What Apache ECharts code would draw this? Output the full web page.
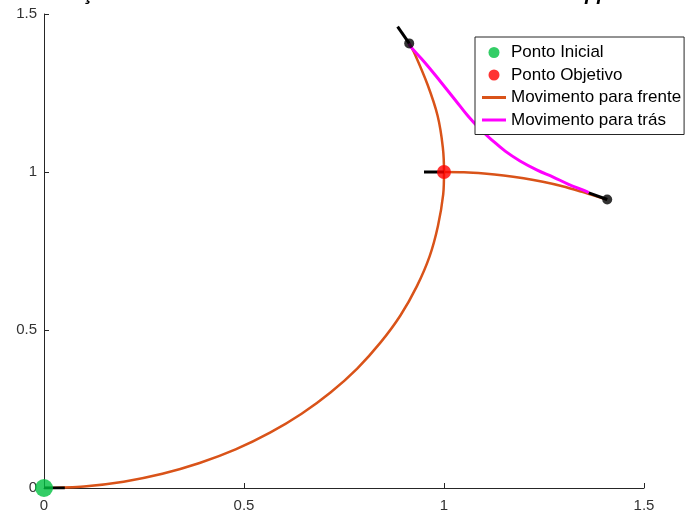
<!DOCTYPE html>
<html>
<head>
<meta charset="utf-8">
<script src="https://cdn.jsdelivr.net/npm/echarts@6/dist/echarts.min.js"></script>
<style>html,body{margin:0;padding:0;background:#fff;}#c{width:690px;height:516px;}</style>
</head>
<body>
<div id="c"></div>
<script>
// Title (partially cut off at the top in the reference)
const titleText = 'Simulações do Resultado Gerado com o Modelo Reeds-Shepp';
// Axis ticks
const xTicks = [0, 0.5, 1, 1.5];
const yTicks = [0, 0.5, 1, 1.5];
// Points
const startPoint = [[0, 0]];
const goalPoint = [[1, 1]];
const waypoints = [[0.913, 1.407], [1.408, 0.913]];
// Forward motion (orange), two arcs
const forwardArc1 = [
  [0, 0], [0.100, 0.005], [0.199, 0.020], [0.296, 0.045], [0.389, 0.079],
  [0.479, 0.122], [0.565, 0.175], [0.644, 0.235], [0.717, 0.303],
  [0.783, 0.378], [0.841, 0.460], [0.891, 0.546], [0.932, 0.638],
  [0.964, 0.733], [0.985, 0.830], [0.998, 0.929], [1.000, 1.000],
  [0.997, 1.079], [0.984, 1.178], [0.959, 1.276], [0.925, 1.379], [0.913, 1.407]
];
const forwardArc2 = [
  [1.000, 1.000], [1.050, 0.999], [1.100, 0.995], [1.149, 0.989],
  [1.199, 0.980], [1.247, 0.969], [1.296, 0.955], [1.343, 0.938],
  [1.389, 0.920], [1.408, 0.913]
];
// Backward motion (magenta)
const backward = [
  [0.913, 1.407], [0.915, 1.399], [0.953, 1.345], [0.990, 1.288],
  [1.028, 1.228], [1.060, 1.177], [1.090, 1.136], [1.120, 1.101],
  [1.153, 1.066], [1.190, 1.035], [1.233, 1.006], [1.273, 0.984],
  [1.310, 0.962], [1.353, 0.940], [1.362, 0.935]
];
// Heading markers (black short segments)
const headStart = [[0, 0], [0.052, 0]];
const headGoal = [[0.95, 1], [1, 1]];
const headTop = [[0.913, 1.407], [0.884, 1.460]];
const headRight = [[1.408, 0.913], [1.362, 0.934]];

const legendNames = ['Ponto Inicial', 'Ponto Objetivo', 'Movimento para frente', 'Movimento para trás'];

const axisCol = '#262626';
const lineIcon = 'path://M0,0H24V3H0Z';
const chart = echarts.init(document.getElementById('c'));
function seg(d) {
  return {type: 'line', data: d, symbol: 'none', silent: true, z: 4,
    lineStyle: {color: '#000', width: 3}};
}
chart.setOption({
  animation: false,
  backgroundColor: '#fff',
  title: {
    text: titleText, left: 12, top: -21,
    textStyle: {fontFamily: 'Liberation Sans, Arial', fontSize: 20, fontWeight: 'bold', fontStyle: 'italic', color: '#000'}
  },
  grid: {left: 44, right: 46, top: 14, bottom: 28, containLabel: false},
  legend: {
    data: legendNames.map((n, i) => i < 2 ? {name: n, icon: 'circle'} : {name: n, icon: lineIcon}),
    orient: 'vertical', left: 475, top: 37,
    backgroundColor: '#fff', borderColor: '#262626', borderWidth: 1, borderRadius: 0,
    padding: [7, 3, 6, 7], itemGap: 5.5, itemWidth: 24, itemHeight: 11, symbolKeepAspect: true,
    textStyle: {fontFamily: 'Liberation Sans, Arial', fontSize: 17, lineHeight: 17, color: '#000', padding: [0, 0, 0, 0]}
  },
  xAxis: {
    type: 'value', min: 0, max: 1.5, interval: 0.5,
    axisLine: {onZero: false, lineStyle: {color: axisCol, width: 1}},
    axisTick: {inside: true, length: 5, lineStyle: {color: axisCol}},
    axisLabel: {color: '#333', fontFamily: 'Liberation Sans, Arial', fontSize: 15, margin: 10,
      formatter: v => String(v)},
    splitLine: {show: false}
  },
  yAxis: {
    type: 'value', min: 0, max: 1.5, interval: 0.5,
    axisLine: {show: true, onZero: false, lineStyle: {color: axisCol, width: 1}},
    axisTick: {show: true, inside: true, length: 5, lineStyle: {color: axisCol}},
    axisLabel: {color: '#333', fontFamily: 'Liberation Sans, Arial', fontSize: 15, margin: 7,
      formatter: v => String(v)},
    splitLine: {show: false}
  },
  series: [
    {name: 'Movimento para frente', type: 'line', data: forwardArc1, symbol: 'none', smooth: 0.3, z: 2,
      itemStyle: {color: '#D95319'}, lineStyle: {color: '#D95319', width: 2.5}},
    {name: 'Movimento para frente', type: 'line', data: forwardArc2, symbol: 'none', smooth: 0.3, z: 2,
      itemStyle: {color: '#D95319'}, lineStyle: {color: '#D95319', width: 2.5}},
    {name: 'Movimento para trás', type: 'line', data: backward, symbol: 'none', smooth: 0.4, z: 3,
      itemStyle: {color: '#FF00FF'}, lineStyle: {color: '#FF00FF', width: 3}},
    seg(headStart), seg(headGoal), seg(headTop), seg(headRight),
    {type: 'scatter', data: waypoints, symbol: 'circle', symbolSize: 10, z: 5, silent: true,
      itemStyle: {color: '#000'}},
    {name: 'Ponto Objetivo', type: 'scatter', data: goalPoint, symbolSize: 14, z: 6,
      itemStyle: {color: '#FF0000'}},
    {name: 'Ponto Inicial', type: 'scatter', data: startPoint, symbolSize: 18, z: 6,
      itemStyle: {color: '#00C040'}}
  ]
});
</script>
</body>
</html>
